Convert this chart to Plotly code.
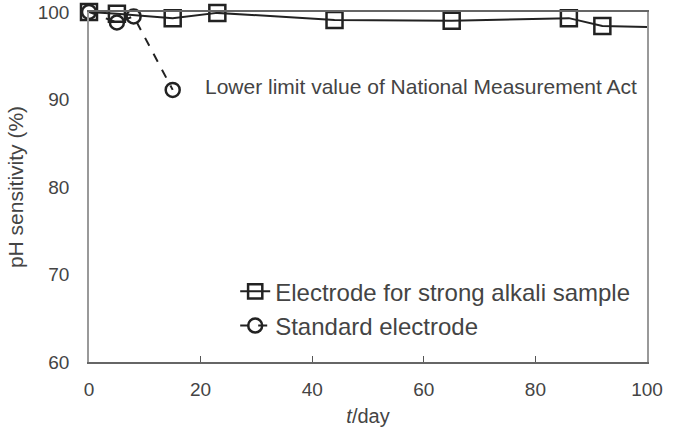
import plotly.graph_objects as go

# Data
t_alkali = [0, 5, 15, 23, 44, 65, 86, 92, 100]
s_alkali = [100, 99.8, 99.3, 99.9, 99.1, 99.0, 99.3, 98.4, 98.3]
alkali_marker_sizes = [16, 16, 16, 16, 16, 16, 16, 16, 0]

t_std = [0, 5, 8, 15]
s_std = [100, 98.8, 99.5, 91.1]

x_ticks = [0, 20, 40, 60, 80, 100]
y_ticks = [60, 70, 80, 90, 100]

FONT = "Liberation Sans, Arial, Helvetica, sans-serif"
DARK = "#222222"
TXT = "#444444"

fig = go.Figure()
fig.add_trace(go.Scatter(
    x=t_alkali, y=s_alkali, mode="lines+markers",
    name="Electrode for strong alkali sample",
    line=dict(color=DARK, width=2),
    marker=dict(symbol="square-open", size=alkali_marker_sizes, color=DARK,
                line=dict(width=2.5, color=DARK), opacity=1),
    cliponaxis=False,
))
fig.add_trace(go.Scatter(
    x=t_std, y=s_std, mode="lines+markers",
    name="Standard electrode",
    line=dict(color=DARK, width=2, dash="dash"),
    marker=dict(symbol="circle-open", size=14, color=DARK,
                line=dict(width=2.5, color=DARK)),
    cliponaxis=False,
))

fig.add_annotation(
    x=20.5, y=91.5, xref="x", yref="y", xanchor="left", yanchor="middle",
    text="Lower limit value of National Measurement Act", showarrow=False,
    font=dict(family=FONT, size=21, color=TXT),
)

fig.update_layout(
    width=677, height=432,
    margin=dict(l=89, r=30, t=12, b=70, autoexpand=False),
    paper_bgcolor="white", plot_bgcolor="white",
    font=dict(family=FONT, size=18, color=TXT),
    showlegend=True,
    legend=dict(
        x=0.262, y=0.265, xanchor="left", yanchor="top",
        bgcolor="rgba(0,0,0,0)", font=dict(family=FONT, size=24, color=TXT),
        tracegroupgap=0, itemsizing="trace",
    ),
    xaxis=dict(
        range=[0, 100], tickvals=x_ticks, ticktext=[str(v) for v in x_ticks],
        showgrid=False, zeroline=False, showline=True, linecolor="#666666",
        linewidth=1.5, mirror=True, ticks="inside", ticklen=6, tickcolor="#555555",
        tickfont=dict(size=19, color=TXT), ticklabelstandoff=9, automargin=False,
        title=dict(text="<i>t</i>/day", font=dict(size=20, color=TXT), standoff=10),
    ),
    yaxis=dict(
        range=[60, 100], tickvals=y_ticks, ticktext=[str(v) for v in y_ticks],
        showgrid=False, zeroline=False, showline=True, linecolor="#999999",
        linewidth=1.5, mirror=True, ticks="", ticklabelstandoff=14, automargin=False,
        tickfont=dict(size=19, color=TXT),
        title=dict(text="pH sensitivity (%)", font=dict(size=21, color=TXT), standoff=8),
    ),
)

fig.write_html("out.html")
